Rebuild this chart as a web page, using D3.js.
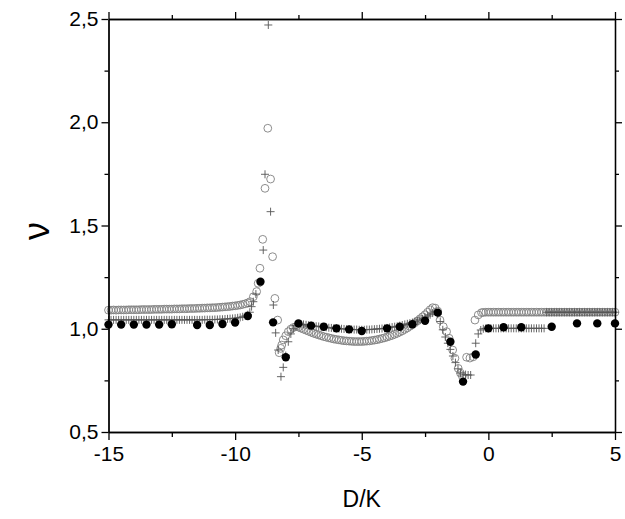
<!DOCTYPE html>
<html>
<head>
<meta charset="utf-8">
<script src="https://cdn.jsdelivr.net/npm/d3@7"></script>
<style>
  html, body { margin: 0; padding: 0; background: #fff; }
  svg { display: block; }
  text { font-family: Arial, "Liberation Sans", sans-serif; fill: #000; }
</style>
</head>
<body>
<script>
// ---- data ----
const xTickValues = [-15, -10, -5, 0, 5];
const xTickLabels = ["-15", "-10", "-5", "0", "5"];
const yTickValues = [0.5, 1.0, 1.5, 2.0, 2.5];
const yTickLabels = ["0,5", "1,0", "1,5", "2,0", "2,5"];
const xMinorTicks = [-12.5, -7.5, -2.5, 2.5];
const yMinorTicks = [0.75, 1.25, 1.75, 2.25];
const xLabel = "D/K";
const yLabel = "ν";

// open circles series
const openCircles = [
[-15.0,1.090],[-14.9,1.090],[-14.8,1.091],[-14.7,1.090],[-14.6,1.091],[-14.5,1.091],[-14.4,1.091],[-14.3,1.091],[-14.2,1.092],[-14.1,1.092],
[-14.0,1.092],[-13.9,1.092],[-13.8,1.092],[-13.7,1.093],[-13.6,1.093],[-13.5,1.093],[-13.4,1.093],[-13.3,1.093],[-13.2,1.094],[-13.1,1.094],
[-13.0,1.094],[-12.9,1.094],[-12.8,1.095],[-12.7,1.095],[-12.6,1.095],[-12.5,1.095],[-12.4,1.096],[-12.3,1.096],[-12.2,1.096],[-12.1,1.097],
[-12.0,1.097],[-11.9,1.097],[-11.8,1.098],[-11.7,1.098],[-11.6,1.098],[-11.5,1.099],[-11.4,1.099],[-11.3,1.100],[-11.2,1.100],[-11.1,1.101],
[-11.0,1.101],[-10.9,1.102],[-10.8,1.102],[-10.7,1.103],[-10.6,1.104],[-10.5,1.105],[-10.4,1.106],[-10.3,1.107],[-10.2,1.108],[-10.1,1.110],
[-10.0,1.111],[-9.9,1.113],[-9.8,1.115],[-9.7,1.118],[-9.6,1.121],[-9.5,1.125],
[-9.41,1.131],[-9.28,1.155],[-9.15,1.180],[-9.09,1.220],[-9.02,1.293],[-8.91,1.433],[-8.82,1.680],[-8.71,1.971],[-8.60,1.725],[-8.52,1.349],
[-8.43,1.147],[-8.32,1.042],
[-8.26,0.884],[-8.20,0.905],[-8.16,0.921],[-8.10,0.946],[-8.00,0.966],[-7.90,0.986],[-7.80,0.998],[-7.70,1.006],[-7.60,1.010],
[-7.5,1.008],[-7.4,1.003],[-7.3,0.998],[-7.2,0.993],[-7.1,0.988],[-7.0,0.983],[-6.9,0.978],[-6.8,0.974],[-6.7,0.970],[-6.6,0.966],
[-6.5,0.962],[-6.4,0.959],[-6.3,0.956],[-6.2,0.953],[-6.1,0.950],[-6.0,0.948],[-5.9,0.946],[-5.8,0.944],[-5.7,0.942],[-5.6,0.941],
[-5.5,0.940],[-5.4,0.939],[-5.3,0.938],[-5.2,0.938],[-5.1,0.938],[-5.0,0.938],[-4.9,0.939],[-4.8,0.940],[-4.7,0.941],[-4.6,0.943],
[-4.5,0.945],[-4.4,0.947],[-4.3,0.950],[-4.2,0.953],[-4.1,0.956],[-4.0,0.960],[-3.9,0.964],[-3.8,0.968],[-3.7,0.973],[-3.6,0.978],
[-3.5,0.984],[-3.4,0.990],[-3.3,0.997],[-3.2,1.004],[-3.1,1.012],[-3.0,1.020],[-2.9,1.029],[-2.8,1.038],[-2.7,1.048],[-2.6,1.058],
[-2.5,1.068],[-2.4,1.080],[-2.3,1.092],[-2.2,1.102],[-2.1,1.100],[-2.0,1.085],
[-1.91,1.042],[-1.78,1.010],[-1.65,0.986],[-1.55,0.954],[-1.41,0.897],[-1.32,0.857],[-1.19,0.808],[-1.10,0.785],[-1.03,0.771],
[-0.86,0.862],[-0.73,0.858],[-0.60,0.864],
[-0.53,1.042],[-0.40,1.067],[-0.27,1.078],
[-0.2,1.079],[-0.1,1.080],[0.0,1.080],[0.1,1.080],[0.2,1.080],[0.3,1.080],[0.4,1.080],[0.5,1.080],[0.6,1.080],[0.7,1.080],
[0.8,1.080],[0.9,1.080],[1.0,1.080],[1.1,1.080],[1.2,1.080],[1.3,1.080],[1.4,1.080],[1.5,1.080],[1.6,1.080],[1.7,1.080],
[1.8,1.080],[1.9,1.080],[2.0,1.080],[2.1,1.080],[2.2,1.080],[2.3,1.080],[2.4,1.080],[2.5,1.080],[2.6,1.080],[2.7,1.080],
[2.8,1.080],[2.9,1.080],[3.0,1.080],[3.1,1.080],[3.2,1.080],[3.3,1.080],[3.4,1.080],[3.5,1.080],[3.6,1.080],[3.7,1.080],
[3.8,1.080],[3.9,1.080],[4.0,1.080],[4.1,1.080],[4.2,1.080],[4.3,1.080],[4.4,1.080],[4.5,1.080],[4.6,1.080],[4.7,1.080],
[4.8,1.080],[4.9,1.080],[5.0,1.080]
];

// plus-sign series
const plusPoints = [
[-15.0,1.043],[-14.9,1.043],[-14.8,1.043],[-14.7,1.043],[-14.6,1.043],[-14.5,1.043],[-14.4,1.043],[-14.3,1.043],[-14.2,1.043],[-14.1,1.043],
[-14.0,1.043],[-13.9,1.043],[-13.8,1.043],[-13.7,1.043],[-13.6,1.043],[-13.5,1.043],[-13.4,1.043],[-13.3,1.043],[-13.2,1.043],[-13.1,1.043],
[-13.0,1.043],[-12.9,1.043],[-12.8,1.043],[-12.7,1.043],[-12.6,1.043],[-12.5,1.043],[-12.4,1.043],[-12.3,1.043],[-12.2,1.043],[-12.1,1.043],
[-12.0,1.043],[-11.9,1.043],[-11.8,1.043],[-11.7,1.043],[-11.6,1.043],[-11.5,1.043],[-11.4,1.043],[-11.3,1.043],[-11.2,1.044],[-11.1,1.044],
[-11.0,1.044],[-10.9,1.044],[-10.8,1.045],[-10.7,1.045],[-10.6,1.046],[-10.5,1.046],[-10.4,1.047],[-10.3,1.048],[-10.2,1.049],[-10.1,1.050],
[-10.0,1.051],[-9.9,1.053],[-9.8,1.055],[-9.7,1.058],[-9.6,1.062],[-9.5,1.068],[-9.42,1.080],[-9.35,1.107],[-9.28,1.131],[-9.18,1.168],
[-8.89,1.381],[-8.82,1.748],[-8.69,2.471],[-8.60,1.567],[-8.49,1.115],[-8.40,0.980],[-8.30,0.897],[-8.19,0.768],[-8.10,0.813],
[-8.00,0.870],[-7.90,0.937],[-7.80,0.975],[-7.70,1.000],[-7.60,1.015],
[-7.5,1.022],[-7.4,1.022],[-7.3,1.021],[-7.2,1.019],[-7.1,1.017],[-7.0,1.015],[-6.9,1.014],[-6.8,1.012],[-6.7,1.011],[-6.6,1.009],
[-6.5,1.008],[-6.4,1.007],[-6.3,1.005],[-6.2,1.004],[-6.1,1.003],[-6.0,1.002],[-5.9,1.001],[-5.8,1.000],[-5.7,0.999],[-5.6,0.998],
[-5.5,0.997],[-5.4,0.997],[-5.3,0.996],[-5.2,0.996],[-5.1,0.995],[-5.0,0.995],[-4.9,0.995],[-4.8,0.996],[-4.7,0.996],[-4.6,0.997],
[-4.5,0.998],[-4.4,0.999],[-4.3,1.000],[-4.2,1.001],[-4.1,1.002],[-4.0,1.004],[-3.9,1.006],[-3.8,1.008],[-3.7,1.010],[-3.6,1.012],
[-3.5,1.015],[-3.4,1.018],[-3.3,1.021],[-3.2,1.024],[-3.1,1.027],[-3.0,1.030],[-2.9,1.034],[-2.8,1.038],[-2.7,1.043],[-2.6,1.048],
[-2.5,1.054],[-2.4,1.061],[-2.3,1.068],[-2.2,1.076],[-2.1,1.082],[-2.0,1.070],[-1.9,1.035],[-1.8,0.995],[-1.7,0.960],[-1.6,0.930],
[-1.5,0.900],[-1.4,0.868],[-1.3,0.836],[-1.2,0.806],[-1.1,0.785],[-1.0,0.776],[-0.9,0.778],[-0.8,0.776],[-0.7,0.776],
[-0.5,0.930],[-0.4,0.975],[-0.3,0.994],[-0.2,1.000],
[-0.1,1.002],[0.0,1.002],[0.1,1.002],[0.2,1.002],[0.3,1.002],[0.4,1.002],[0.5,1.002],[0.6,1.002],[0.7,1.002],[0.8,1.002],
[0.9,1.002],[1.0,1.002],[1.1,1.002],[1.2,1.002],[1.3,1.002],[1.4,1.002],[1.5,1.002],[1.6,1.002],[1.7,1.002],[1.8,1.002],
[1.9,1.002],[2.0,1.002],[2.1,1.002],[2.2,1.002],
[2.3,1.080],[2.4,1.080],[2.5,1.080],[2.6,1.080],[2.7,1.080],[2.8,1.080],[2.9,1.080],[3.0,1.080],[3.1,1.080],[3.2,1.080],
[3.3,1.080],[3.4,1.080],[3.5,1.080],[3.6,1.080],[3.7,1.080],[3.8,1.080],[3.9,1.080],[4.0,1.080],[4.1,1.080],[4.2,1.080],
[4.3,1.080],[4.4,1.080],[4.5,1.080],[4.6,1.080],[4.7,1.080],[4.8,1.080],[4.9,1.080],[5.0,1.080]
];

// filled circles series
const filledX = [-15,-14.5,-14,-13.5,-13,-12.5,-11.5,-11,-10.5,-10,-9.5,-9,-8.5,-8,-7.5,-7,-6.5,-6,-5.5,-5,-4,-3.5,-3,-2.5,-2,-1.5,-1,-0.5,0,0.6,1.3,2.5,3.5,4.3,5];
const filledY = [1.020,1.020,1.020,1.020,1.020,1.022,1.018,1.018,1.023,1.030,1.062,1.228,1.031,0.862,1.026,1.015,1.010,1.002,0.997,0.989,1.002,1.010,1.022,1.039,1.078,0.937,0.744,0.875,1.002,1.007,1.007,1.010,1.026,1.026,1.026];

// ---- layout ----
const W = 625, H = 519;
const pLeft = 108.5, pRight = 615, pTop = 19, pBottom = 432;

const svg = d3.select("body").append("svg").attr("width", W).attr("height", H);

const x = d3.scaleLinear().domain([-15, 5]).range([pLeft, pRight]);
const y = d3.scaleLinear().domain([0.5, 2.5]).range([pBottom, pTop]);

svg.append("clipPath").attr("id", "clip").append("rect")
  .attr("x", pLeft - 5).attr("y", pTop - 10).attr("width", pRight - pLeft + 15).attr("height", pBottom - pTop + 10);

const g = svg.append("g").attr("clip-path", "url(#clip)");

g.selectAll("circle.open").data(openCircles).enter().append("circle")
  .attr("class", "open")
  .attr("cx", d => x(d[0])).attr("cy", d => y(d[1])).attr("r", 3.9)
  .attr("fill", "none").attr("stroke", "#808080").attr("stroke-width", 0.9);

const plusSize = 4;
g.selectAll("path.plus").data(plusPoints).enter().append("path")
  .attr("class", "plus")
  .attr("d", d => {
    const px = x(d[0]), py = y(d[1]);
    return `M${px - plusSize},${py}H${px + plusSize}M${px},${py - plusSize}V${py + plusSize}`;
  })
  .attr("stroke", "#555").attr("stroke-width", 0.9).attr("fill", "none");

g.selectAll("circle.filled").data(filledX.map((v, i) => [v, filledY[i]])).enter().append("circle")
  .attr("class", "filled")
  .attr("cx", d => x(d[0])).attr("cy", d => y(d[1])).attr("r", 4.2)
  .attr("fill", "#000");

// ---- axes ----
const fmtX = v => xTickLabels[xTickValues.indexOf(v)];
const fmtY = v => yTickLabels[yTickValues.indexOf(v)];

function styleAxis(sel) {
  sel.selectAll("path.domain").attr("stroke", "#000").attr("stroke-width", 1.3);
  sel.selectAll(".tick line").attr("stroke", "#000").attr("stroke-width", 1.3);
  sel.selectAll("text").style("font-family", "Arial, 'Liberation Sans', sans-serif").style("font-size", "21px").attr("fill", "#000");
}

// bottom
svg.append("g").attr("transform", `translate(0,${pBottom})`)
  .call(d3.axisBottom(x).tickValues(xTickValues).tickFormat(fmtX).tickSize(8).tickSizeOuter(0).tickPadding(6))
  .call(styleAxis);
svg.append("g").attr("transform", `translate(0,${pBottom})`)
  .call(d3.axisBottom(x).tickValues(xMinorTicks).tickFormat("").tickSize(5).tickSizeOuter(0))
  .call(styleAxis);
// top
svg.append("g").attr("transform", `translate(0,${pTop})`)
  .call(d3.axisTop(x).tickValues(xTickValues).tickFormat("").tickSize(7).tickSizeOuter(0)).call(styleAxis);
svg.append("g").attr("transform", `translate(0,${pTop})`)
  .call(d3.axisTop(x).tickValues(xMinorTicks).tickFormat("").tickSize(4).tickSizeOuter(0)).call(styleAxis);
// left
svg.append("g").attr("transform", `translate(${pLeft},0)`)
  .call(d3.axisLeft(y).tickValues(yTickValues).tickFormat(fmtY).tickSize(7).tickSizeOuter(0).tickPadding(3))
  .call(styleAxis);
svg.append("g").attr("transform", `translate(${pLeft},0)`)
  .call(d3.axisLeft(y).tickValues(yMinorTicks).tickFormat("").tickSize(4).tickSizeOuter(0)).call(styleAxis);
// right
svg.append("g").attr("transform", `translate(${pRight},0)`)
  .call(d3.axisRight(y).tickValues(yTickValues).tickFormat("").tickSize(7).tickSizeOuter(0)).call(styleAxis);
svg.append("g").attr("transform", `translate(${pRight},0)`)
  .call(d3.axisRight(y).tickValues(yMinorTicks).tickFormat("").tickSize(4).tickSizeOuter(0)).call(styleAxis);

// axis titles
svg.append("text")
  .attr("x", (pLeft + pRight) / 2).attr("y", 507)
  .attr("text-anchor", "middle")
  .style("font-size", "23px")
  .text(xLabel);

svg.append("text")
  .attr("transform", `translate(49,231) rotate(-90)`)
  .attr("text-anchor", "middle")
  .style("font-size", "36px")
  .style("font-family", "Arial, 'Liberation Sans', sans-serif")
  .text(yLabel);
</script>
</body>
</html>
